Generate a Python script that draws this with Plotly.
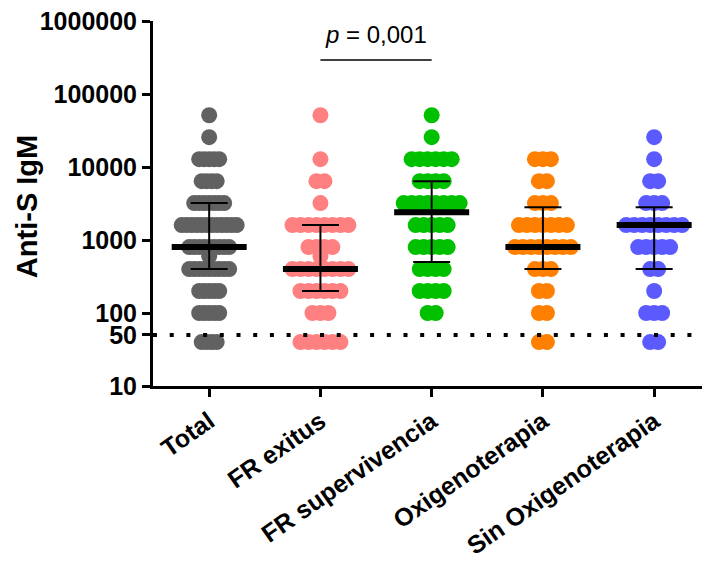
import numpy as np
import plotly.graph_objects as go

# Groups and colours
groups = ["Total", "FR exitus", "FR supervivencia", "Oxigenoterapia", "Sin Oxigenoterapia"]
colors = ["#616161", "#FF8080", "#00C000", "#FF8000", "#5A5AFF"]

# Anti-S IgM titres and number of patients at each titre, per group
titers = [40, 100, 200, 400, 600, 800, 1600, 3200, 6400, 12800, 25600, 51200]
total_n = [4, 5, 5, 9, 1, 9, 12, 7, 4, 5, 1, 1]
exitus_n = [6, 3, 6, 8, 1, 4, 8, 1, 2, 1, 0, 1]
superv_n = [0, 2, 4, 4, 0, 5, 5, 8, 4, 6, 1, 1]
oxig_n = [2, 2, 2, 3, 0, 8, 7, 3, 2, 3, 0, 0]
sin_oxig_n = [2, 3, 1, 2, 0, 5, 8, 3, 2, 1, 1, 0]
counts = [total_n, exitus_n, superv_n, oxig_n, sin_oxig_n]

# Detection limit and significance annotation
cutoff = 50
p_text = "<i>p</i> = 0,001"
p_pair = (1, 2)
p_bar_level = 292000

y_ticks = [10, 50, 100, 1000, 10000, 100000, 1000000]

# Geometry
W, H = 702, 564
ML, MR, MT, MB = 153, 0, 21, 178
x_range = [-0.505, 4.43]
px_per_unit = (W - ML - MR) / (x_range[1] - x_range[0])
swarm_gap_px = [5, 8, 8, 8, 8]
FONT = "Liberation Sans, Arial, sans-serif"

fig = go.Figure()

# Scatter (swarm) of each group
for g, (name, col, cnt) in enumerate(zip(groups, colors, counts)):
    xs, ys = [], []
    gap = swarm_gap_px[g] / px_per_unit
    for t, n in zip(titers, cnt):
        for i in range(n):
            xs.append(g + (i - (n - 1) / 2) * gap)
            ys.append(t)
    fig.add_trace(go.Scatter(
        x=xs, y=ys, mode="markers", showlegend=False, hoverinfo="y", name=name,
        marker=dict(size=16, color=col, line=dict(width=0)),
    ))

# Dotted line at the cut-off
fig.add_trace(go.Scatter(
    x=x_range, y=[cutoff, cutoff], mode="lines", showlegend=False, hoverinfo="skip",
    line=dict(color="black", width=4, dash="4px,12.7px"),
))

# Median and interquartile range for each group
med_half = 37.5 / px_per_unit
cap_half = 18.5 / px_per_unit
for g, cnt in enumerate(counts):
    vals = np.repeat(titers, cnt)
    q1, med, q3 = np.percentile(vals, [25, 50, 75], method="weibull")
    fig.add_trace(go.Scatter(
        x=[g, g, None, g - cap_half, g + cap_half, None, g - cap_half, g + cap_half],
        y=[q1, q3, None, q1, q1, None, q3, q3],
        mode="lines", line=dict(color="black", width=2), showlegend=False, hoverinfo="skip",
    ))
    fig.add_trace(go.Scatter(
        x=[g - med_half, g + med_half], y=[med, med],
        mode="lines", line=dict(color="black", width=6), showlegend=False, hoverinfo="skip",
    ))

# Significance bracket
fig.add_trace(go.Scatter(
    x=list(p_pair), y=[p_bar_level, p_bar_level], mode="lines",
    line=dict(color="black", width=1.5), showlegend=False, hoverinfo="skip",
))
fig.add_annotation(x=(p_pair[0] + p_pair[1]) / 2, y=np.log10(p_bar_level), yshift=26,
                   text=p_text, showarrow=False, xanchor="center", yanchor="middle",
                   font=dict(family=FONT, size=24, color="black"))

# Y axis title
fig.add_annotation(xref="paper", yref="paper", x=0, y=0.49, xshift=-126,
                   text="Anti-S IgM", textangle=-90, showarrow=False,
                   xanchor="center", yanchor="middle",
                   font=dict(family=FONT, size=29, color="black", weight="bold"))

fig.update_layout(
    width=W, height=H,
    margin=dict(l=ML, r=MR, t=MT, b=MB, autoexpand=False),
    paper_bgcolor="white", plot_bgcolor="white",
    xaxis=dict(
        range=x_range, tickmode="array", tickvals=list(range(len(groups))), ticktext=groups,
        tickangle=-35, showgrid=False, zeroline=False, automargin=False,
        showline=True, linecolor="black", linewidth=3,
        ticks="outside", ticklen=8, tickwidth=3, tickcolor="black",
        tickfont=dict(family=FONT, size=25, color="black", weight="bold"),
    ),
    yaxis=dict(
        type="log", range=[1, 6], tickmode="array", tickvals=y_ticks,
        ticktext=[str(v) for v in y_ticks], automargin=False,
        showgrid=False, zeroline=False,
        showline=True, linecolor="black", linewidth=3,
        ticks="outside", ticklen=8, tickwidth=3, tickcolor="black",
        tickfont=dict(family=FONT, size=25, color="black", weight="bold"),
    ),
)

fig.write_html("out.html")
